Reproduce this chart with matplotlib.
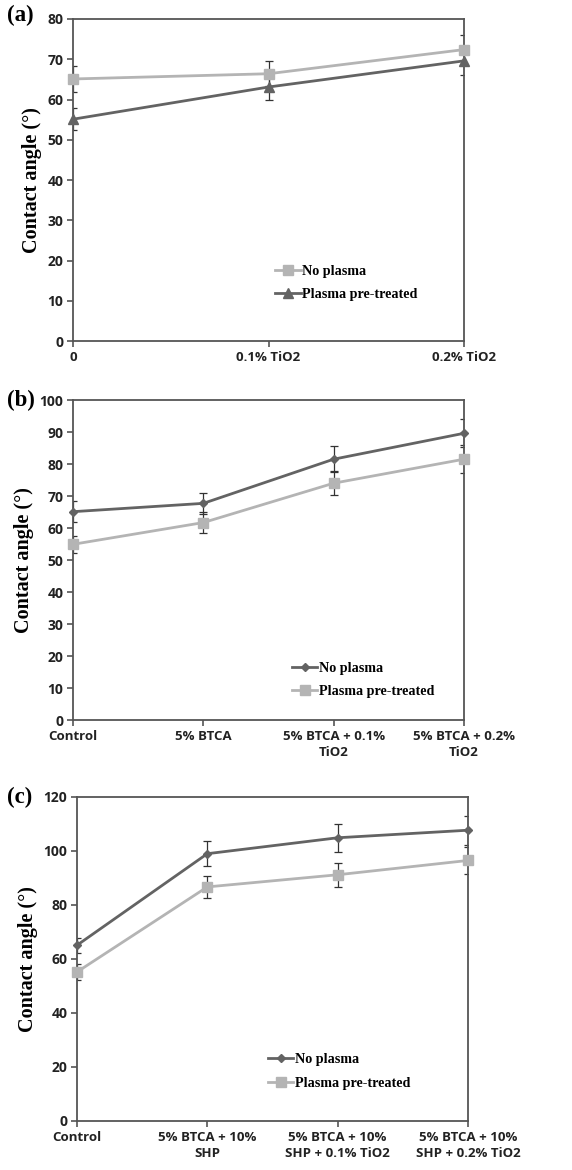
import numpy as np
import matplotlib.pyplot as plt

# panel (a): TiO2 only
cats_a = ["0", "0.1% TiO2", "0.2% TiO2"]
a_noplasma = [65.1, 66.4, 72.4]
a_noplasma_err = [3.2, 3.1, 3.7]
a_plasma = [55.1, 63.1, 69.6]
a_plasma_err = [2.7, 3.2, 3.5]

# panel (b): BTCA + TiO2
cats_b = ["Control", "5% BTCA", "5% BTCA + 0.1%\nTiO2", "5% BTCA + 0.2%\nTiO2"]
b_noplasma = [65.1, 67.7, 81.5, 89.6]
b_noplasma_err = [3.2, 3.3, 4.0, 4.4]
b_plasma = [54.9, 61.7, 74.0, 81.5]
b_plasma_err = [2.7, 3.4, 3.7, 4.4]

# panel (c): BTCA + SHP + TiO2
cats_c = ["Control", "5% BTCA + 10%\nSHP", "5% BTCA + 10%\nSHP + 0.1% TiO2",
          "5% BTCA + 10%\nSHP + 0.2% TiO2"]
c_noplasma = [65.1, 99.0, 104.9, 107.7]
c_noplasma_err = [2.7, 4.6, 5.2, 5.3]
c_plasma = [55.2, 86.7, 91.2, 96.5]
c_plasma_err = [3.0, 4.0, 4.4, 4.9]

DARK = "#636363"
LIGHT = "#b4b4b4"
W = 572
H = 1170

fig = plt.figure(figsize=(W / 100, H / 100), dpi=100)


def px_axes(left, top, right, bottom):
    return fig.add_axes([left / W, 1 - bottom / H, (right - left) / W, (bottom - top) / H])


def setup(ax, cats, ymax, ystep):
    ax.set_xlim(0, len(cats) - 1)
    ax.set_ylim(0, ymax)
    ax.set_xticks(range(len(cats)))
    ax.set_xticklabels(cats, fontsize=9.5, family="Open Sans", fontweight="bold",
                       color="#222222", linespacing=1.3)
    ax.set_yticks(np.arange(0, ymax + 1, ystep))
    for t in ax.get_yticklabels():
        t.set_fontsize(10)
        t.set_family("Open Sans")
        t.set_fontweight("bold")
        t.set_color("#222222")
    ax.tick_params(direction="out", length=4, width=1.2, color="#555555", pad=3)
    for s in ax.spines.values():
        s.set_color("#555555")
        s.set_linewidth(1.3)
    ax.set_ylabel("Contact angle (°)", family="Liberation Serif", fontweight="bold",
                  fontsize=14.5, labelpad=4)


def series(ax, y, err, color, marker, ms, label):
    x = np.arange(len(y))
    ax.errorbar(x, y, yerr=err, fmt="none", ecolor="#333333", elinewidth=0.9,
                capsize=3, capthick=0.9, zorder=2)
    ax.plot(x, y, color=color, lw=2, marker=marker, ms=ms, label=label, zorder=3,
            clip_on=False)


def legend(ax, x, y):
    ax.legend(loc="center left", bbox_to_anchor=(x, y), frameon=False,
              prop={"family": "Liberation Serif", "size": 10.2, "weight": "bold"},
              handlelength=1.8, handletextpad=0.1, labelspacing=0.75, borderpad=0,
              borderaxespad=0)


# (a)
ax = px_axes(73, 19, 464, 341)
series(ax, a_noplasma, a_noplasma_err, LIGHT, "s", 7.5, "No plasma")
series(ax, a_plasma, a_plasma_err, DARK, "^", 6.5, "Plasma pre-treated")
setup(ax, cats_a, 80, 10)
legend(ax, 0.517, 0.18)

# (b)
ax = px_axes(73, 400, 464, 720)
series(ax, b_noplasma, b_noplasma_err, DARK, "D", 4.5, "No plasma")
series(ax, b_plasma, b_plasma_err, LIGHT, "s", 7.5, "Plasma pre-treated")
setup(ax, cats_b, 100, 10)
legend(ax, 0.56, 0.125)

# (c)
ax = px_axes(77, 797, 468, 1121)
series(ax, c_noplasma, c_noplasma_err, DARK, "D", 4.5, "No plasma")
series(ax, c_plasma, c_plasma_err, LIGHT, "s", 7.5, "Plasma pre-treated")
setup(ax, cats_c, 120, 20)
legend(ax, 0.488, 0.153)

for lab, ypx in [("(a)", 15), ("(b)", 400), ("(c)", 797)]:
    fig.text(7 / W, 1 - ypx / H, lab, family="Liberation Serif", fontweight="bold",
             fontsize=16.5, va="center", ha="left")

fig.savefig("out.png", dpi=100)
